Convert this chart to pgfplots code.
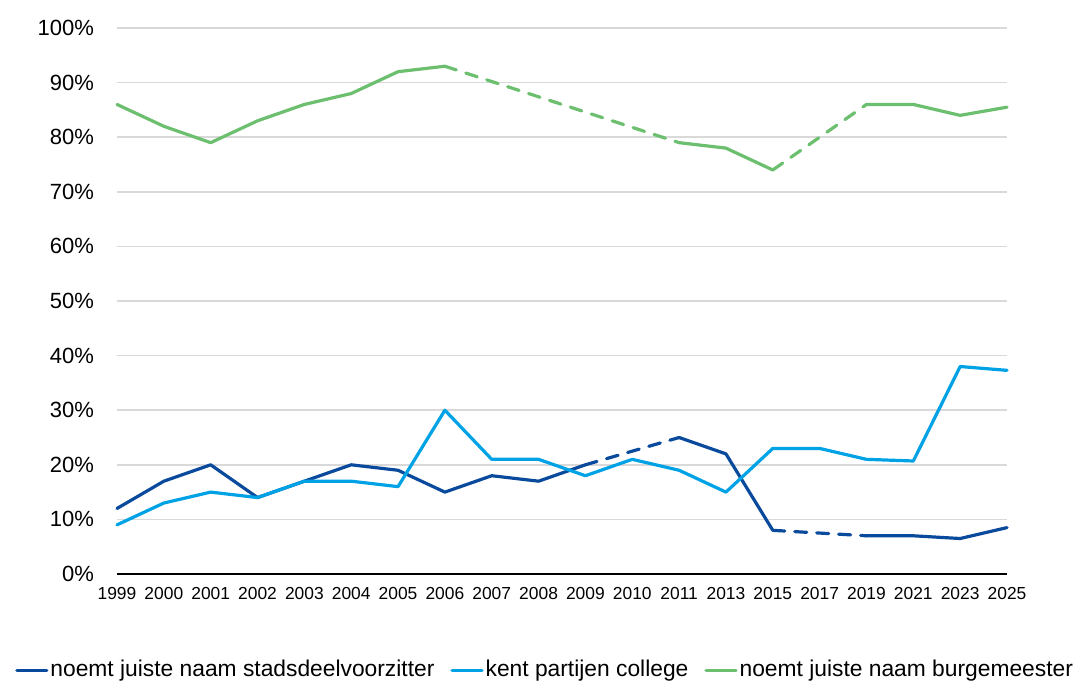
\documentclass[border=0pt]{standalone}
\usepackage{pgfplots}
\pgfplotsset{compat=1.18}
\usepackage{fontspec}
\setmainfont{Liberation Sans}

\definecolor{donker}{HTML}{0A4A9C}
\definecolor{licht}{HTML}{00A2E6}
\definecolor{groen}{HTML}{6CBF6E}
\definecolor{rooster}{HTML}{D9D9D9}

\pgfplotsset{
  sol/.style={line width=1.6pt, line join=round, line cap=round},
  stip/.style={line width=1.6pt, line cap=round, dash pattern=on 6pt off 5pt, forget plot},
}

\begin{document}
\begin{tikzpicture}
\begin{axis}[
  scale only axis,
  width=445pt, height=273pt,
  xmin=0, xmax=19,
  ymin=0, ymax=100,
  xtick={0,...,19},
  xticklabels={1999,2000,2001,2002,2003,2004,2005,2006,2007,2008,2009,2010,2011,2013,2015,2017,2019,2021,2023,2025},
  ytick={0,10,...,100},
  yticklabel={\pgfmathprintnumber{\tick}\%},
  /pgf/number format/assume math mode=true,
  tick style={draw=none},
  xticklabel style={font=\fontsize{8.7}{10}\selectfont, yshift=-3pt},
  yticklabel style={font=\fontsize{11}{13}\selectfont, xshift=-8pt},
  axis lines*=left,
  axis line style={-},
  y axis line style={draw=none},
  x axis line style={black, line width=1pt},
  ymajorgrids,
  grid style={rooster, line width=0.75pt},
  unbounded coords=jump,
  clip=false,
  legend columns=3,
  legend style={at={(0.481,-0.176)}, anchor=center, draw=none, fill=none,
    font=\fontsize{11.4}{13}\selectfont, inner sep=0pt,
    nodes={inner sep=1pt},
    /tikz/every even column/.style={column sep=7pt}},
  legend image code/.code={\draw[#1, line width=1.6pt, dash pattern=] (0pt,0pt) -- (15pt,0pt);},
]
% stadsdeelvoorzitter
\addplot[sol, donker] coordinates {(0,12) (1,17) (2,20) (3,14) (4,17) (5,20) (6,19) (7,15) (8,18) (9,17) (10,20) (11,nan) (12,25) (13,22) (14,8) (15,nan) (16,7) (17,7) (18,6.5) (19,8.5)};
\addlegendentry{noemt juiste naam stadsdeelvoorzitter}
% partijen college
\addplot[sol, licht] coordinates {(0,9) (1,13) (2,15) (3,14) (4,17) (5,17) (6,16) (7,30) (8,21) (9,21) (10,18) (11,21) (12,19) (13,15) (14,23) (15,23) (16,21) (17,20.7) (18,38) (19,37.3)};
\addlegendentry{kent partijen college}
% burgemeester
\addplot[sol, groen] coordinates {(0,86) (1,82) (2,79) (3,83) (4,86) (5,88) (6,92) (7,93) (8,nan) (12,79) (13,78) (14,74) (15,nan) (16,86) (17,86) (18,84) (19,85.5)};
\addlegendentry{noemt juiste naam burgemeester}
% gestippelde overbruggingen
\addplot[stip, donker] coordinates {(10,20) (12,25)};
\addplot[stip, donker] coordinates {(14,8) (16,7)};
\addplot[stip, groen] coordinates {(7,93) (12,79)};
\addplot[stip, groen] coordinates {(14,74) (16,86)};
\end{axis}
\pgfresetboundingbox
\path (-58.5pt,-54pt) rectangle (484pt,287pt);
\end{tikzpicture}
\end{document}
